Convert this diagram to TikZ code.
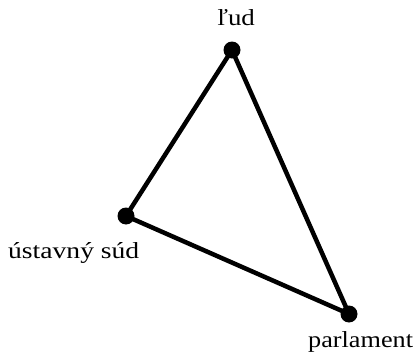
\documentclass[tikz,border=0pt]{standalone}
\usepackage{fontspec}
\setmainfont{Liberation Serif}
\usepackage{graphicx}
\begin{document}
\begin{tikzpicture}[x=1pt,y=-1pt,
  vdot/.style={circle,fill=black,inner sep=0pt,minimum size=17pt},
  edge/.style={line width=4.5pt,line join=round,line cap=round},
  lbl/.style={inner sep=0pt,font=\fontsize{23}{27}\selectfont}]
\useasboundingbox (0,0) rectangle (416,356);
\node[vdot] (lud) at (232,50) {};
\node[vdot] (sud) at (126,216) {};
\node[vdot] (par) at (349,314) {};
\draw[edge] (lud.center) -- (sud.center) -- (par.center) -- cycle;
\node[lbl,anchor=base] (tl) at (236,26) {\scalebox{1.17}[1]{ľud}};
\node[lbl,anchor=base west] (tu) at (8,258) {\scalebox{1.2}[1]{ústavný súd}};
\node[lbl,anchor=base west] (tp) at (308,347) {\scalebox{1.14}[1]{parlament}};
\end{tikzpicture}
\end{document}
